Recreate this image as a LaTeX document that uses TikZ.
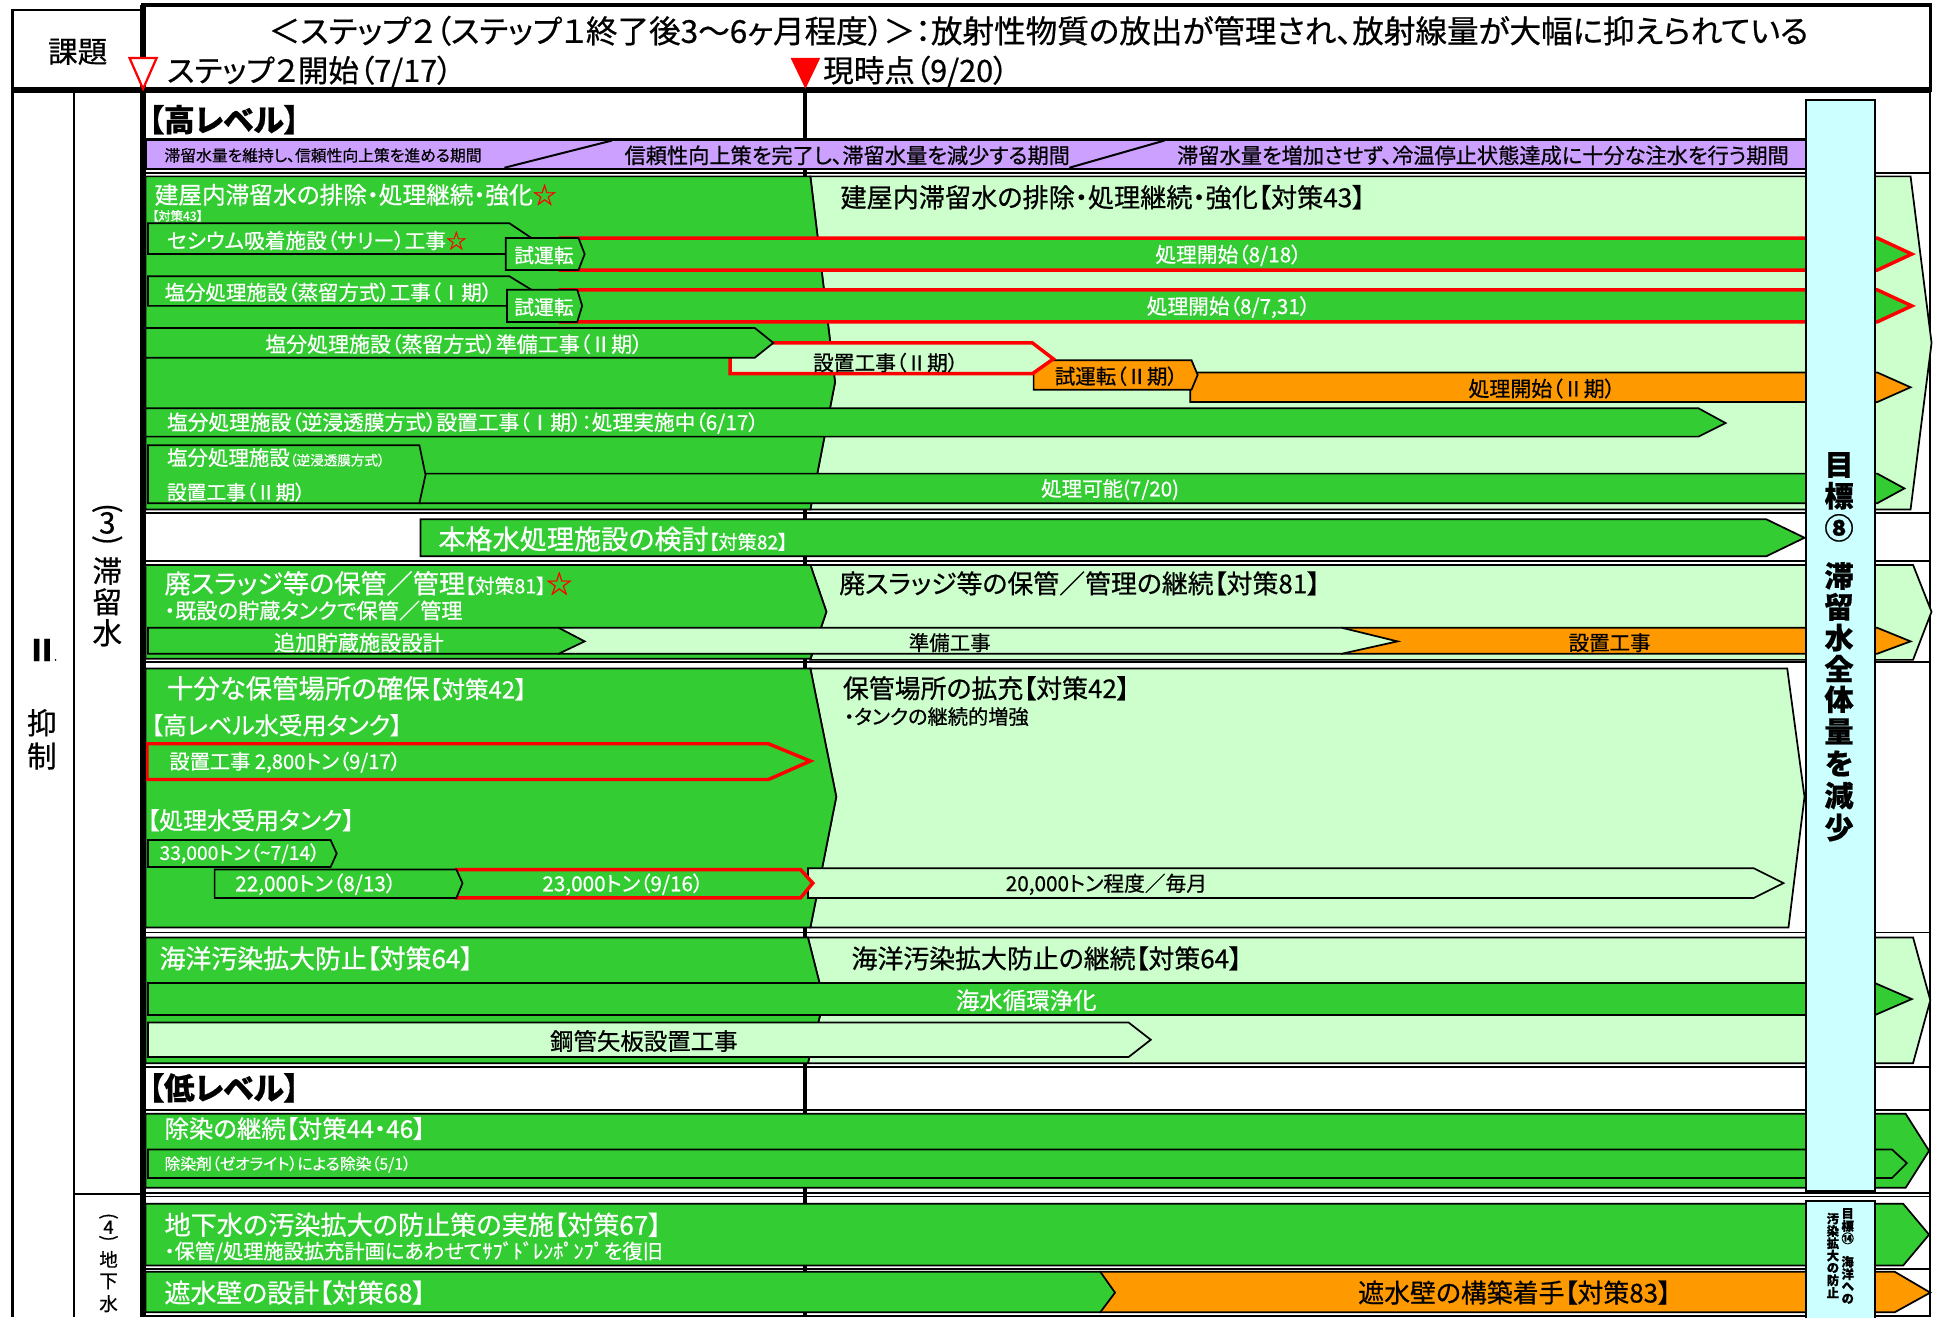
\documentclass[tikz,border=0pt]{standalone}
\usepackage{fontspec}
\setmainfont{Noto Sans CJK JP}[RawFeature=+palt,FakeBold=0.6]
\newfontfamily\jpplain{Noto Sans CJK JP}[FakeBold=0.6]
\definecolor{dgreen}{RGB}{51,204,51}
\definecolor{lgreen}{RGB}{204,255,204}
\definecolor{orng}{RGB}{255,153,0}
\definecolor{purp}{RGB}{204,160,255}
\definecolor{lblue}{RGB}{204,255,255}
\newcommand\fz[1]{\fontsize{#1}{#1}\selectfont}
\begin{document}
\begin{tikzpicture}[x=0.5pt,y=-0.5pt,
  dg/.style={fill=dgreen,draw=black,line width=0.7pt},
  lg/.style={fill=lgreen,draw=black,line width=0.7pt},
  og/.style={fill=orng,draw=black,line width=0.7pt},
  rdg/.style={fill=dgreen,draw=red,line width=1.4pt},
  rlg/.style={fill=lgreen,draw=red,line width=1.4pt},
  wt/.style={text=white,inner sep=0pt,anchor=west},
  wc/.style={text=white,inner sep=0pt},
  bt/.style={text=black,inner sep=0pt,anchor=west},
  bc/.style={text=black,inner sep=0pt},
  tline/.style={line width=0.7pt},
  vtxt/.style={inner sep=0pt}]
\useasboundingbox (0,0) rectangle (1568,1068);
\fill[white] (0,0) rectangle (1568,1068);
% header
\draw[line width=1.4pt] (116,4) rectangle (1565,73);
\draw[line width=1pt] (10,8) rectangle (116,73);
\node[inner sep=0pt] (kadai) at (63,42) {\fz{12pt}課題};
\node[inner sep=0pt] (title) at (842,25) {\fz{12.8pt}＜ステップ２（ステップ１終了後3～6ヶ月程度）＞：放射性物質の放出が管理され、放射線量が大幅に抑えられている};
\node[bt] (st2) at (135,58) {\fz{12.4pt}ステップ２開始（7/17）};
\node[bt] (now) at (667,58) {\fz{12.4pt}現時点（9/20）};
% body frame lines
\draw[line width=1pt] (10,73) -- (10,1068);
\draw[line width=1pt] (60,73) -- (60,1068);
\draw[line width=1pt] (60,968) -- (116,968);
\draw[line width=0.8pt] (1565,73) -- (1565,1068);
\draw[line width=1.6pt] (653,73) -- (653,1068);
\draw[line width=2.2pt] (10,73) -- (1565,73);
% table lines
\foreach \yy in {140,416,455,537,756,865,900,967,970,1029,1067}
  \draw[tline] (118,\yy) -- (1565,\yy);
\node[bt] (hi) at (120,97) {\fz{12.5pt}\bfseries 【高レベル】};
% purple bar
\draw[fill=purp,line width=1pt] (118,113) rectangle (1466,137);
\draw[line width=0.8pt] (409,136) -- (496,114);
\draw[line width=0.8pt] (867,136) -- (944,114);
\node[bt] (p1) at (133,126) {\fz{6.4pt}滞留水量を維持し、信頼性向上策を進める期間};
\node[bt] (p2) at (506,126) {\fz{8.6pt}信頼性向上策を完了し、滞留水量を減少する期間};
\node[bt] (p3) at (954,126) {\fz{8.6pt}滞留水量を増加させず、冷温停止状態達成に十分な注水を行う期間};
% ===== Group A
\draw[lg] (657,143) -- (1549,143) -- (1566,278) -- (1549,413) -- (657,413) -- (677,310) -- cycle;
\draw[dg] (118,143) -- (657,143) -- (677,310) -- (657,413) -- (118,413) -- cycle;
\node[wt] (a1) at (125,158) {\fz{9.6pt}建屋内滞留水の排除・処理継続・強化{\color{red}☆}};
\node[wt] (a2) at (123,175) {\fz{5pt}【対策43】};
\node[bt] (a3) at (681,160) {\fz{10.6pt}建屋内滞留水の排除・処理継続・強化【対策43】};
% cesium
\draw[dg] (120,181) -- (413,181) -- (431,193) -- (431,206) -- (120,206) -- cycle;
\node[wt] (cs) at (135,195) {\fz{8.4pt}セシウム吸着施設（サリー）工事{\color{red}☆}};
\draw[rdg] (453,193) -- (1522,193) -- (1550,206) -- (1522,219) -- (453,219);
\node[wc] (cs2) at (996,207) {\fz{8.4pt}処理開始（8/18）};
\draw[dg] (410,193) -- (469,193) -- (474,206) -- (469,219) -- (410,219) -- cycle;
\node[wc] (cs3) at (441,207) {\fz{8pt}試運転};
% evaporation I
\draw[dg] (120,224) -- (413,224) -- (431,235) -- (431,248) -- (120,248) -- cycle;
\node[wt] (ev) at (133,237) {\fz{8.3pt}塩分処理施設（蒸留方式）工事（Ⅰ期）};
\draw[rdg] (453,235) -- (1522,235) -- (1550,248) -- (1522,261) -- (453,261);
\node[wc] (ev2) at (996,249) {\fz{8.4pt}処理開始（8/7,31）};
\draw[dg] (411,235) -- (468,235) -- (472,248) -- (468,261) -- (411,261) -- cycle;
\node[wc] (ev3) at (441,249) {\fz{8pt}試運転};
% evaporation II
\draw[og] (965,302) -- (1522,302) -- (1549,314) -- (1522,326) -- (965,326) -- cycle;
\node[bc] (e2c) at (1250,315) {\fz{8.5pt}処理開始（Ⅱ期）};
\draw[og] (838,292) -- (966,292) -- (971,304) -- (966,316) -- (838,316) -- cycle;
\node[bc] (e2b) at (905,305) {\fz{8.3pt}試運転（Ⅱ期）};
\draw[rlg] (592,278) -- (837,278) -- (854,291) -- (837,303) -- (592,303) -- cycle;
\node[bc] (e2a) at (718,294) {\fz{8.4pt}設置工事（Ⅱ期）};
\draw[dg] (118,266) -- (612,266) -- (627,278) -- (612,290) -- (118,290) -- cycle;
\node[wc] (e2) at (368,279) {\fz{8.5pt}塩分処理施設（蒸留方式）準備工事（Ⅱ期）};
% RO I
\draw[dg] (118,331) -- (1377,331) -- (1399,343) -- (1377,354) -- (118,354) -- cycle;
\node[wt] (ro1) at (135,343) {\fz{8.4pt}塩分処理施設（逆浸透膜方式）設置工事（Ⅰ期）：処理実施中（6/17）};
% RO II
\draw[dg] (340,384) -- (1522,384) -- (1544,396) -- (1522,408) -- (340,408) -- cycle;
\node[wc] (ro2b) at (900,397) {\fz{8.3pt}処理可能(7/20)};
\draw[dg] (120,361) -- (340,361) -- (345,385) -- (340,408) -- (120,408) -- cycle;
\node[wt] (ro2) at (135,371) {\fz{8.3pt}塩分処理施設{\fz{5.5pt}（逆浸透膜方式）}};
\node[wt] (ro2a) at (135,399) {\fz{8pt}設置工事（Ⅱ期）};
% ===== Group B
\draw[dg] (341,421) -- (1432,421) -- (1463,436) -- (1432,451) -- (341,451) -- cycle;
\node[wt] (b1) at (355,437) {\fz{11pt}本格水処理施設の検討{\fz{7.8pt}【対策82】}};
% ===== Group C
\draw[lg] (657,458) -- (1551,458) -- (1566,496) -- (1551,535) -- (657,535) -- (670,496) -- cycle;
\draw[dg] (118,458) -- (657,458) -- (670,496) -- (657,534) -- (118,534) -- cycle;
\node[wt] (c1) at (133,473) {\fz{10.6pt}廃スラッジ等の保管／管理{\fz{8pt}【対策81】}{\color{red}☆}};
\node[wt] (c2) at (133,495) {\fz{8.6pt}・既設の貯蔵タンクで保管／管理};
\node[bt] (c3) at (680,473) {\fz{10.5pt}廃スラッジ等の保管／管理の継続【対策81】};
\draw[og] (1088,509) -- (1522,509) -- (1549,520) -- (1522,530) -- (1088,530) -- cycle;
\node[bc] (c6) at (1305,521) {\fz{8.3pt}設置工事};
\draw[lg] (453,509) -- (1088,509) -- (1133,520) -- (1088,530) -- (453,530) -- cycle;
\node[bc] (c5) at (770,521) {\fz{8.3pt}準備工事};
\draw[dg] (120,509) -- (453,509) -- (474,520) -- (453,530) -- (120,530) -- cycle;
\node[wc] (c4) at (291,521) {\fz{8.6pt}追加貯蔵施設設計};
% ===== Group D
\draw[lg] (657,542) -- (1449,542) -- (1463,646) -- (1450,752) -- (657,752) -- (678,646) -- cycle;
\draw[dg] (118,542) -- (657,542) -- (678,646) -- (657,752) -- (118,752) -- cycle;
\node[wt] (d1) at (135,558) {\fz{10.7pt}十分な保管場所の確保{\fz{9.6pt}【対策42】}};
\node[wt] (d2) at (122,588) {\fz{9.7pt}【高レベル水受用タンク】};
\draw[rdg] (119,603) -- (623,603) -- (657,617) -- (623,632) -- (119,632) -- cycle;
\node[wt] (d3) at (137,618) {\fz{8.2pt}設置工事 2,800トン（9/17）};
\node[wt] (d4) at (119,665) {\fz{9.7pt}【処理水受用タンク】};
\draw[dg] (120,681) -- (268,681) -- (273,692) -- (268,703) -- (120,703) -- cycle;
\node[wt] (d5) at (129,692) {\fz{7.8pt}33,000トン（\textasciitilde7/14）};
\draw[lg] (655,704) -- (1422,704) -- (1446,716) -- (1422,728) -- (655,728) -- cycle;
\node[bc] (d8) at (897,717) {\fz{8.4pt}20,000トン程度／毎月};
\draw[rdg] (370,705) -- (649,705) -- (659,716) -- (649,728) -- (370,728) -- cycle;
\node[wc] (d7) at (505,717) {\fz{8.4pt}23,000トン（9/16）};
\draw[dg] (174,705) -- (370,705) -- (375,716) -- (370,728) -- (174,728) -- cycle;
\node[wc] (d6) at (256,717) {\fz{8.4pt}22,000トン（8/13）};
\node[bt] (d9) at (683,558) {\fz{10.5pt}保管場所の拡充【対策42】};
\node[bt] (d10) at (684,581) {\fz{8.2pt}・タンクの継続的増強};
% ===== Group E
\draw[lg] (655,760) -- (1551,760) -- (1565,811) -- (1551,862) -- (655,862) -- (668,811) -- cycle;
\draw[dg] (118,760) -- (655,760) -- (668,811) -- (655,862) -- (118,862) -- cycle;
\node[wt] (e1) at (129,777) {\fz{10.5pt}海洋汚染拡大防止【対策64】};
\node[bt] (e2r) at (690,777) {\fz{10.5pt}海洋汚染拡大防止の継続【対策64】};
\draw[dg] (120,797) -- (1520,797) -- (1550,810) -- (1520,823) -- (120,823) -- cycle;
\node[wc] (e3) at (832,811) {\fz{9.5pt}海水循環浄化};
\draw[lg] (120,829) -- (915,829) -- (933,843) -- (915,857) -- (120,857) -- cycle;
\node[bc] (e4) at (522,844) {\fz{9.5pt}鋼管矢板設置工事};
% ===== Group F
\node[bt] (lo) at (120,882) {\fz{12.5pt}\bfseries 【低レベル】};
% ===== Group G
\draw[dg] (118,903) -- (1545,903) -- (1564,933) -- (1545,963) -- (118,963) -- cycle;
\node[wt] (g1) at (133,915) {\fz{9.9pt}除染の継続【対策44・46】};
\draw[dg] (120,932) -- (1534,932) -- (1546,943) -- (1534,955) -- (120,955) -- cycle;
\node[wt] (g2) at (133,944) {\fz{6.4pt}除染剤（ゼオライト）による除染（5/1）};
% ===== Group H
\draw[dg] (118,976) -- (1543,976) -- (1564,1001) -- (1543,1026) -- (118,1026) -- cycle;
\node[wt] (h1) at (133,993) {\fz{10.6pt}地下水の汚染拡大の防止策の実施【対策67】};
\node[wt] (h2) at (133,1015) {\fz{8.2pt}・保管/処理施設拡充計画にあわせて{\jpplain ｻﾌﾞﾄﾞﾚﾝﾎﾟﾝﾌﾟ}を復旧};
% ===== Group I
\draw[og] (892,1031) -- (1536,1031) -- (1565,1048) -- (1536,1064) -- (892,1064) -- cycle;
\draw[dg] (118,1031) -- (892,1031) -- (904,1048) -- (892,1064) -- (118,1064) -- cycle;
\node[wt] (i1) at (133,1048) {\fz{10.5pt}遮水壁の設計【対策68】};
\node[bc] (i2) at (1228,1048) {\fz{10.5pt}遮水壁の構築着手【対策83】};
% step line
\draw[line width=2.2pt] (116,4) -- (116,1068);
% triangles
\draw[red,fill=white,line width=0.9pt] (105,47) -- (127,47) -- (116,72) -- cycle;
\fill[red] (641,47) -- (665,47) -- (653,72) -- cycle;
% target columns
\draw[fill=lblue,line width=0.8pt] (1464,81) rectangle (1520,966);
\draw[fill=lblue,line width=0.8pt] (1464,974) rectangle (1520,1070);
\foreach \c/\yy [count=\i] in {目/377,標/402,⑧/428,滞/467,留/492,水/517,全/542,体/567,量/593,を/619,減/645,少/671}
  \node[vtxt] (t\i) at (1491,\yy) {\fz{11.8pt}\bfseries \c};
\foreach \c/\yy [count=\i] in {目/984,標/994,⑭/1004,海/1023,洋/1033,へ/1043,の/1053}
  \node[vtxt] (u\i) at (1498,\yy) {\fz{5pt}\bfseries \c};
\foreach \c/\yy [count=\i] in {汚/988,染/998,拡/1008,大/1018,の/1028,防/1038,止/1048}
  \node[vtxt] (v\i) at (1486,\yy) {\fz{5pt}\bfseries \c};
% left labels
\node[vtxt] (II) at (34,527) {\fz{12pt}\bfseries Ⅱ};
\node[vtxt] (IIdot) at (45,535) {\fz{5pt}.};
\node[vtxt] (yoku) at (34,586) {\fz{12pt}抑};
\node[vtxt] (sei) at (34,613) {\fz{12pt}制};
\node[vtxt,rotate=-90] (p3a) at (87,412) {\fz{12pt}(};
\node[vtxt] (p3b) at (87,424) {\fz{12pt}3};
\node[vtxt,rotate=-90] (p3c) at (87,438) {\fz{12pt})};
\node[vtxt] (s1) at (87,463) {\fz{12pt}滞};
\node[vtxt] (s2) at (87,488) {\fz{12pt}留};
\node[vtxt] (s3) at (87,513) {\fz{12pt}水};
\node[vtxt,rotate=-90] (p4a) at (88,986) {\fz{7.5pt}(};
\node[vtxt] (p4b) at (88,995) {\fz{7.5pt}4};
\node[vtxt,rotate=-90] (p4c) at (88,1004) {\fz{7.5pt})};
\node[vtxt] (w1) at (88,1021) {\fz{7.5pt}地};
\node[vtxt] (w2) at (88,1039) {\fz{7.5pt}下};
\node[vtxt] (w3) at (88,1057) {\fz{7.5pt}水};
\end{tikzpicture}
\end{document}
